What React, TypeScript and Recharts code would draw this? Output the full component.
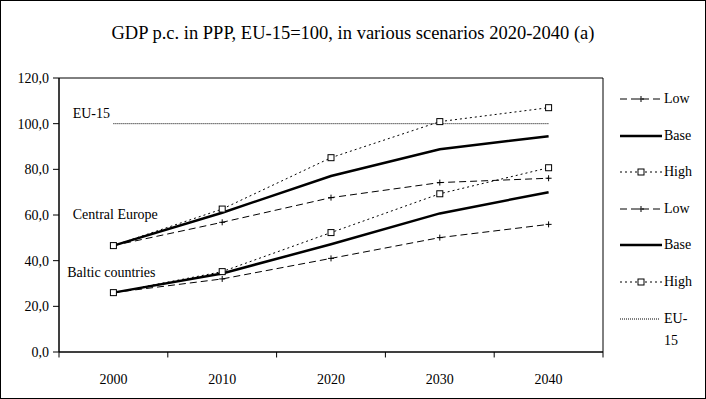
import React from 'react';
import {
  LineChart,
  Line,
  XAxis,
  YAxis,
  ReferenceLine,
  ReferenceArea,
  ReferenceDot,
} from 'recharts';

// years on the x axis
const years = [2000, 2010, 2020, 2030, 2040];
const yTicks = [0, 20, 40, 60, 80, 100, 120];
const bandEdges = [1995, 2005, 2015, 2025, 2035, 2045];

// Central Europe scenarios
const ceLow = [46.6, 56.8, 67.6, 74.2, 76.1];
const ceBase = [46.6, 61.0, 77.1, 88.8, 94.5];
const ceHigh = [46.6, 62.6, 85.1, 100.9, 107.0];

// Baltic countries scenarios
const blLow = [26.0, 32.0, 41.0, 50.1, 55.9];
const blBase = [26.0, 34.4, 47.2, 60.7, 70.0];
const blHigh = [26.0, 35.2, 52.3, 69.3, 80.7];

const eu15 = [100, 100, 100, 100, 100];

const data = years.map((year, i) => ({
  year,
  ceLow: ceLow[i],
  ceBase: ceBase[i],
  ceHigh: ceHigh[i],
  blLow: blLow[i],
  blBase: blBase[i],
  blHigh: blHigh[i],
  eu15: eu15[i],
}));

const FONT = "'Liberation Serif', 'Times New Roman'";

const PlusDot = (props: any) => {
  const { cx, cy } = props;
  if (cx == null || cy == null) return null;
  return (
    <g>
      <line x1={cx - 3} y1={cy} x2={cx + 3} y2={cy} stroke="#000" strokeWidth={1} />
      <line x1={cx} y1={cy - 3} x2={cx} y2={cy + 3} stroke="#000" strokeWidth={1} />
    </g>
  );
};

const SquareDot = (props: any) => {
  const { cx, cy } = props;
  if (cx == null || cy == null) return null;
  return <rect x={cx - 3} y={cy - 3} width={6} height={6} fill="#fff" stroke="#000" strokeWidth={1} />;
};

const legendItems = [
  { name: 'Low', kind: 'low' },
  { name: 'Base', kind: 'base' },
  { name: 'High', kind: 'high' },
  { name: 'Low', kind: 'low' },
  { name: 'Base', kind: 'base' },
  { name: 'High', kind: 'high' },
  { name: 'EU-15', kind: 'eu' },
];

const LegendSample = ({ kind }: { kind: string }) => (
  <svg width={42} height={10} style={{ display: 'block' }}>
    {kind === 'low' && (
      <>
        <line x1={0} y1={5} x2={42} y2={5} stroke="#000" strokeDasharray="7 4" />
        <PlusDot cx={21} cy={5} />
      </>
    )}
    {kind === 'base' && <line x1={0} y1={5} x2={42} y2={5} stroke="#000" strokeWidth={2.5} />}
    {kind === 'high' && (
      <>
        <line x1={0} y1={5} x2={42} y2={5} stroke="#000" strokeDasharray="2 3" />
        <SquareDot cx={21} cy={5} />
      </>
    )}
    {kind === 'eu' && <line x1={0} y1={5} x2={40} y2={5} stroke="#000" strokeDasharray="1 1" />}
  </svg>
);

const labelStyle = { fill: '#000', fontSize: 14, fontFamily: FONT };

export default function App() {
  return (
    <div
      style={{
        position: 'absolute',
        left: 0,
        top: 0,
        width: 706,
        height: 399,
        background: '#fff',
        fontFamily: FONT,
      }}
    >
      <div
        style={{
          position: 'absolute',
          left: 0,
          top: 23,
          width: 706,
          textAlign: 'center',
          fontSize: 18.5,
          color: '#000',
        }}
      >
        GDP p.c. in PPP, EU-15=100, in various scenarios 2020-2040 (a)
      </div>

      <LineChart
        width={706}
        height={399}
        data={data}
        margin={{ top: 78, right: 103, left: 0, bottom: 0 }}
        style={{ position: 'absolute', left: 0, top: 0 }}
      >
        <XAxis
          dataKey="year"
          type="number"
          domain={[1995, 2045]}
          ticks={years}
          tickLine={false}
          axisLine={{ stroke: '#000' }}
          height={47}
          tickMargin={16}
          tick={labelStyle}
          interval={0}
        />
        <YAxis
          type="number"
          domain={[0, 120]}
          ticks={yTicks}
          width={59}
          tickSize={6}
          tickMargin={4}
          axisLine={{ stroke: '#000' }}
          tickLine={{ stroke: '#000' }}
          tickFormatter={(v: number) => v.toFixed(1).replace('.', ',')}
          tick={labelStyle}
        />

        <ReferenceArea x1={1995} x2={2045} y1={0} y2={120} fill="none" stroke="#000" strokeWidth={1} />

        {bandEdges.map((edge) => (
          <ReferenceLine
            key={edge}
            segment={[
              { x: edge, y: 0 },
              { x: edge, y: -2.4 },
            ]}
            stroke="#000"
            ifOverflow="visible"
          />
        ))}

        <Line dataKey="eu15" stroke="#000" strokeWidth={1} strokeDasharray="1 1" dot={false} isAnimationActive={false} />

        <Line dataKey="ceLow" stroke="#000" strokeWidth={1} strokeDasharray="7 4" dot={<PlusDot />} isAnimationActive={false} />
        <Line dataKey="ceBase" stroke="#000" strokeWidth={2.5} dot={false} isAnimationActive={false} />
        <Line dataKey="ceHigh" stroke="#000" strokeWidth={1} strokeDasharray="2 3" dot={<SquareDot />} isAnimationActive={false} />

        <Line dataKey="blLow" stroke="#000" strokeWidth={1} strokeDasharray="7 4" dot={<PlusDot />} isAnimationActive={false} />
        <Line dataKey="blBase" stroke="#000" strokeWidth={2.5} dot={false} isAnimationActive={false} />
        <Line dataKey="blHigh" stroke="#000" strokeWidth={1} strokeDasharray="2 3" dot={<SquareDot />} isAnimationActive={false} />

        <ReferenceDot x={1995.8} y={104.7} r={0} stroke="none" label={{ value: 'EU-15', position: 'right', ...labelStyle }} />
        <ReferenceDot x={1995.8} y={60.4} r={0} stroke="none" label={{ value: 'Central Europe', position: 'right', ...labelStyle }} />
        <ReferenceDot x={1995.3} y={35} r={0} stroke="none" label={{ value: 'Baltic countries', position: 'right', ...labelStyle }} />
      </LineChart>

      <div style={{ position: 'absolute', left: 620, top: 90, fontSize: 14, color: '#000' }}>
        {legendItems.map((item, i) => (
          <div key={i} style={{ display: 'flex', alignItems: 'flex-start', height: 36.6 }}>
            <div style={{ marginTop: 4 }}>
              <LegendSample kind={item.kind} />
            </div>
            <div style={{ marginLeft: 2, width: 32, lineHeight: '22px', marginTop: -2 }}>{item.name}</div>
          </div>
        ))}
      </div>

      <div
        style={{
          position: 'absolute',
          left: 0,
          top: 0,
          width: 706,
          height: 399,
          boxSizing: 'border-box',
          border: '1px solid #000',
          pointerEvents: 'none',
        }}
      />
    </div>
  );
}
